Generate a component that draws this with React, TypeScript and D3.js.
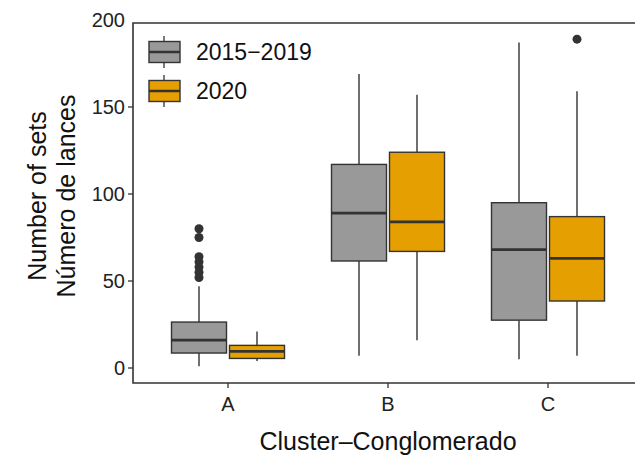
import React from 'react';
import * as d3 from 'd3';

const clusters = ['A', 'B', 'C'];
const periods = ['2015\u22122019', '2020'];
const periodColors = ['#999999', '#E69F00'];
// [cluster][period] = [low whisker, q1, median, q3, high whisker]
const stats2015 = [
  [1, 8.6, 16, 26.4, 47],
  [7, 61.5, 89, 117, 169],
  [5, 27.5, 68, 95, 187],
];
const stats2020 = [
  [4, 5.5, 9.6, 13, 21],
  [16, 67, 84, 124, 157],
  [7, 38.5, 63, 87, 159],
];
const outliers2015 = [[80, 75, 64, 61, 58, 55, 52], [], []];
const outliers2020 = [[], [], [189]];
const yTicks = [0, 50, 100, 150, 200];

const W = 635;
const H = 469;
const panel = { left: 133, right: 644, top: 23, bottom: 383 };

export default function App() {
  const y = d3.scaleLinear().domain([0, 50]).range([368, 281]);
  const x = d3.scaleLinear().domain([1, 3]).range([228, 548]);
  const font = 'Liberation Sans, Arial, sans-serif';
  const boxW = 55;
  const offs = [-29, 29];
  const allStats = [stats2015, stats2020];
  const allOut = [outliers2015, outliers2020];

  return (
    <svg width={W} height={H} style={{ position: 'absolute', left: 0, top: 0 }} fontFamily={font}>
      <rect width={W} height={H} fill="#fff" />
      {clusters.map((c, ci) =>
        periods.map((p, pi) => {
          const [lo, q1, med, q3, hi] = allStats[pi][ci];
          const cx = x(ci + 1) + offs[pi];
          return (
            <g key={c + p}>
              <line x1={cx} x2={cx} y1={y(lo)} y2={y(q1)} stroke="#333" strokeWidth={1.4} />
              <line x1={cx} x2={cx} y1={y(q3)} y2={y(hi)} stroke="#333" strokeWidth={1.4} />
              <rect x={cx - boxW / 2} y={y(q3)} width={boxW} height={y(q1) - y(q3)}
                fill={periodColors[pi]} stroke="#333" strokeWidth={1.4} />
              <line x1={cx - boxW / 2} x2={cx + boxW / 2} y1={y(med)} y2={y(med)} stroke="#333" strokeWidth={2.8} />
              {allOut[pi][ci].map((o, oi) => (
                <circle key={oi} cx={cx} cy={y(o)} r={4.5} fill="#333" />
              ))}
            </g>
          );
        })
      )}
      <path d={`M${panel.right},${panel.top}H${panel.left}V${panel.bottom}H${panel.right}`}
        fill="none" stroke="#333" strokeWidth={1.6} />
      {yTicks.map(t => (
        <g key={t}>
          {y(t) >= panel.top && (
            <line x1={panel.left - 5} x2={panel.left} y1={y(t)} y2={y(t)} stroke="#333" strokeWidth={1.3} />
          )}
          <text x={panel.left - 8} y={y(t)} dy="0.36em" textAnchor="end" fontSize={20} fill="#222">{t}</text>
        </g>
      ))}
      {clusters.map((c, ci) => (
        <g key={c}>
          <line x1={x(ci + 1)} x2={x(ci + 1)} y1={panel.bottom} y2={panel.bottom + 5} stroke="#333" strokeWidth={1.3} />
          <text x={x(ci + 1)} y={panel.bottom + 28} textAnchor="middle" fontSize={20} fill="#222">{c}</text>
        </g>
      ))}
      <text x={388} y={450} textAnchor="middle" fontSize={25} fill="#111">Cluster{'\u2013'}Conglomerado</text>
      <text transform="translate(46,196) rotate(-90)" textAnchor="middle" fontSize={25} fill="#111">Number of sets</text>
      <text transform="translate(75,196) rotate(-90)" textAnchor="middle" fontSize={25} fill="#111">Número de lances</text>
      {periods.map((p, pi) => {
        const ky = 52 + pi * 39;
        return (
          <g key={p}>
            <line x1={164} x2={164} y1={ky - 16} y2={ky + 16} stroke="#333" strokeWidth={1.3} />
            <rect x={149} y={ky - 10.5} width={31} height={21} fill={periodColors[pi]} stroke="#333" strokeWidth={1.4} />
            <line x1={149} x2={180} y1={ky} y2={ky} stroke="#333" strokeWidth={2.5} />
            <text x={196} y={ky} dy="0.36em" fontSize={23} fill="#111">{p}</text>
          </g>
        );
      })}
    </svg>
  );
}
